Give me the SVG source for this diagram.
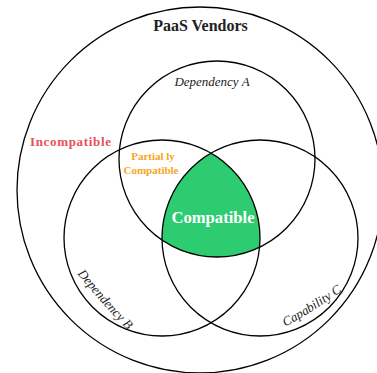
<svg xmlns="http://www.w3.org/2000/svg" width="377" height="373" viewBox="0 0 377 373">
<style>
.ring{fill:none;stroke:#000;stroke-width:1.3}
.lbl{font-family:"Liberation Serif","Times New Roman",serif;fill:#222}
.it{font-style:italic;font-size:13px}
.bold{font-weight:bold}
</style>
<defs>
<clipPath id="clipB"><circle cx="162" cy="238" r="98"/></clipPath>
<clipPath id="clipC"><circle cx="260" cy="238" r="98"/></clipPath>
<path id="pathB" d="M68,262 Q97,299.5 138,341"/>
<path id="pathC" d="M276.3,331.4 Q317,310.4 349.7,285.4"/>
</defs>
<rect width="377" height="373" fill="#fff"/>
<g id="compatible">
<g clip-path="url(#clipB)"><circle cx="217" cy="159" r="98" fill="#2ECC71" clip-path="url(#clipC)"/></g>
</g>
<g id="paas-vendors">
<circle class="ring" cx="200" cy="190" r="183"/>
<text class="lbl bold" x="200.5" y="31" font-size="16" text-anchor="middle">PaaS Vendors</text>
</g>
<g id="dependency-a">
<circle class="ring" cx="217" cy="159" r="98"/>
<text class="lbl it" x="212" y="86" text-anchor="middle">Dependency A</text>
</g>
<g id="dependency-b">
<circle class="ring" cx="162" cy="238" r="98"/>
<text class="lbl it" font-size="14"><textPath href="#pathB" startOffset="50%" text-anchor="middle">Dependency B</textPath></text>
</g>
<g id="capability-c">
<circle class="ring" cx="260" cy="238" r="98"/>
<text class="lbl it"><textPath href="#pathC" startOffset="50%" text-anchor="middle">Capability C</textPath></text>
</g>
<g id="labels">
<text class="lbl bold" x="70.5" y="145.5" font-size="13" fill="#E8505B" style="fill:#E8505B" text-anchor="middle" textLength="81" lengthAdjust="spacing">Incompatible</text>
<text class="lbl bold" x="153" y="159.5" font-size="11" style="fill:#F5A623" text-anchor="middle">Partial ly</text>
<text class="lbl bold" x="151" y="174" font-size="11" style="fill:#F5A623" text-anchor="middle">Compatible</text>
<text class="lbl bold" x="213" y="222.5" font-size="17" style="fill:#fff" text-anchor="middle" textLength="83" lengthAdjust="spacingAndGlyphs">Compatible</text>
</g>
<g id="connectors"/>
</svg>
